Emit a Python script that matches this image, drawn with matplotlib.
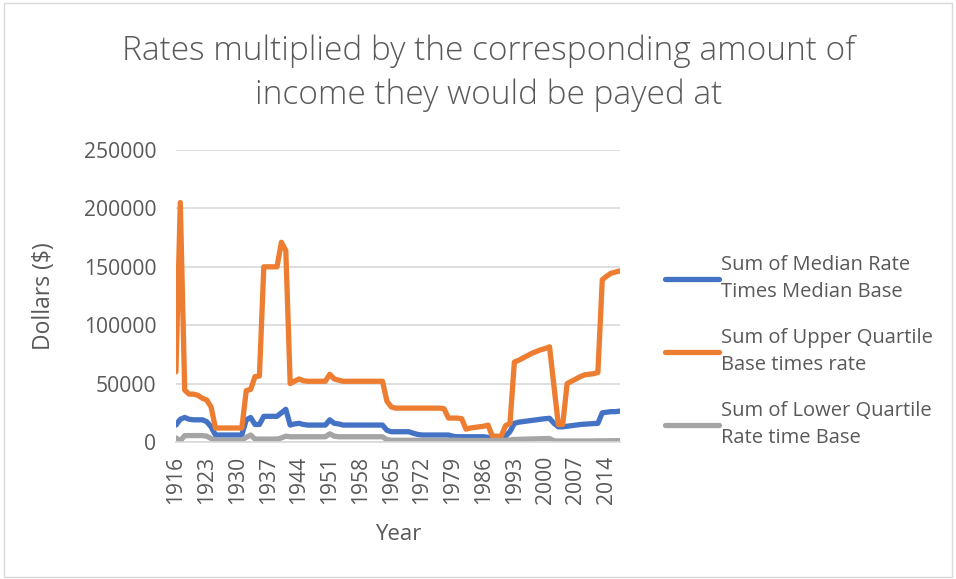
import numpy as np
import matplotlib.pyplot as plt
from matplotlib.patches import Rectangle

# Years on the category axis
years = list(range(1916, 2018))

# Sum of Median Rate Times Median Base
median_vals = [
    14500, 19500, 21000, 19500, 19000, 19000, 19000, 17500, 13000, 6000,   # 1916-1925
    6000, 6000, 6000, 6000, 6000, 6000, 19000, 21000, 15000, 15000,        # 1926-1935
    22000, 22000, 22000, 22000, 25000, 28000, 14500, 15500, 16000, 15000,  # 1936-1945
    14500, 14500, 14500, 14500, 14500, 19000, 16000, 15500, 14500, 14500,  # 1946-1955
    14500, 14500, 14500, 14500, 14500, 14500, 14500, 14500, 10000, 8800,   # 1956-1965
    8800, 8800, 8800, 8800, 7500, 6500, 6000, 6000, 6000, 6000,            # 1966-1975
    6000, 6000, 6000, 5000, 4500, 4500, 4500, 4500, 4500, 4500,            # 1976-1985
    4500, 4000, 4000, 4000, 4000, 5000, 9000, 16000, 17000, 17500,         # 1986-1995
    18000, 18500, 19000, 19500, 20000, 20300, 16000, 13000, 13000, 13500,  # 1996-2005
    14000, 14500, 15000, 15300, 15500, 15800, 16000, 25000, 25500, 26000,  # 2006-2015
    26000, 26500,                                                          # 2016-2017
]

# Sum of Upper Quartile Base times rate
upper_vals = [
    60000, 205000, 44500, 41000, 41000, 40000, 37500, 36000, 30000, 12000,      # 1916-1925
    12000, 12000, 12000, 12000, 12000, 12000, 44000, 45000, 56000, 56500,       # 1926-1935
    150000, 150000, 150000, 150000, 171000, 164000, 50000, 52000, 54000, 52500, # 1936-1945
    52000, 52000, 52000, 52000, 52000, 58000, 54000, 53000, 52000, 52000,       # 1946-1955
    52000, 52000, 52000, 52000, 52000, 52000, 52000, 52000, 35000, 30000,       # 1956-1965
    29000, 29000, 29000, 29000, 29000, 29000, 29000, 29000, 29000, 29000,       # 1966-1975
    29000, 28500, 20500, 20500, 20500, 20000, 11000, 12000, 12500, 13000,       # 1976-1985
    13500, 14500, 5000, 5000, 5000, 14000, 16000, 68500, 70000, 72000,          # 1986-1995
    74000, 76000, 77500, 79000, 80000, 81500, 48000, 15000, 15000, 50000,       # 1996-2005
    52000, 54000, 56000, 57500, 58000, 58500, 59500, 139000, 142000, 144500,    # 2006-2015
    145500, 146500,                                                             # 2016-2017
]

# Sum of Lower Quartile Rate time Base
lower_vals = [
    3500, 1000, 5500, 5500, 5500, 5500, 5500, 5000, 3000, 1500,   # 1916-1925
    1500, 1500, 1500, 1500, 1500, 1500, 4000, 6000, 2500, 2500,   # 1926-1935
    2500, 2500, 2500, 2500, 3500, 5000, 4500, 4500, 4500, 4500,   # 1936-1945
    4500, 4500, 4500, 4500, 4500, 7000, 5000, 4500, 4500, 4500,   # 1946-1955
    4500, 4500, 4500, 4500, 4500, 4500, 4500, 4500, 2000, 1500,   # 1956-1965
    1500, 1500, 1500, 1500, 1500, 1500, 1500, 1500, 1500, 1500,   # 1966-1975
    1500, 1500, 1500, 1500, 1500, 1300, 1300, 1300, 1300, 1300,   # 1976-1985
    1300, 1300, 1300, 1300, 1300, 1500, 1800, 2200, 2300, 2400,   # 1986-1995
    2500, 2600, 2700, 2800, 2900, 3000, 1000, 900, 900, 900,      # 1996-2005
    900, 900, 900, 900, 900, 900, 1000, 1000, 1000, 1100,         # 2006-2015
    1100, 1200,                                                   # 2016-2017
]

tick_years = list(range(1916, 2018, 7))
y_ticks = [0, 50000, 100000, 150000, 200000, 250000]

text_grey = "#595959"
plt.rcParams['font.family'] = ['Open Sans', 'DejaVu Sans']

fig = plt.figure(figsize=(9.56, 5.79), dpi=100)
fig.patches.append(Rectangle((0.004, 0.004), 0.992, 0.99, transform=fig.transFigure,
                             fill=False, edgecolor="#d9d9d9", linewidth=1))

ax = fig.add_axes([0.184, 0.2366, 0.4644, 0.5043])

ax.plot(years, median_vals, color="#4472C4", lw=3.8, solid_joinstyle="round",
        solid_capstyle="round", label="Sum of Median Rate\nTimes Median Base")
ax.plot(years, upper_vals, color="#ED7D31", lw=3.8, solid_joinstyle="round",
        solid_capstyle="round", label="Sum of Upper Quartile\nBase times rate")
ax.plot(years, lower_vals, color="#A5A5A5", lw=3.8, solid_joinstyle="round",
        solid_capstyle="round", label="Sum of Lower Quartile\nRate time Base")

ax.set_xlim(1916, 2017)
ax.set_ylim(0, 250000)
ax.set_yticks(y_ticks)
ax.set_yticklabels([str(v) for v in y_ticks])
ax.set_xticks(tick_years)
ax.set_xticklabels([str(y) for y in tick_years], rotation=90)
ax.tick_params(axis="both", length=0, labelsize=15.2, colors=text_grey)
ax.tick_params(axis="y", pad=14)
ax.tick_params(axis="x", pad=10)

ax.grid(axis="y", color="#d9d9d9", lw=1.2)
ax.set_axisbelow(True)
for side in ["top", "right", "left"]:
    ax.spines[side].set_visible(False)
ax.spines["bottom"].set_color("#d9d9d9")
ax.spines["bottom"].set_linewidth(1.2)

ax.set_xlabel("Year", fontsize=16, color=text_grey, labelpad=14)
ax.set_ylabel("Dollars ($)", fontsize=16.5, color=text_grey, labelpad=20)

fig.suptitle("Rates multiplied by the corresponding amount of\nincome they would be payed at",
             x=0.511, y=0.94, fontsize=24, fontweight="light", color=text_grey,
             linespacing=1.4)

leg = ax.legend(loc="center left", bbox_to_anchor=(1.06, 0.31), frameon=False,
                fontsize=14.5, labelcolor=text_grey, handlelength=2.7, handletextpad=0.1,
                labelspacing=1.3)
for t in leg.get_texts():
    t.set_linespacing(1.45)

fig.savefig("out.png", dpi=100)
